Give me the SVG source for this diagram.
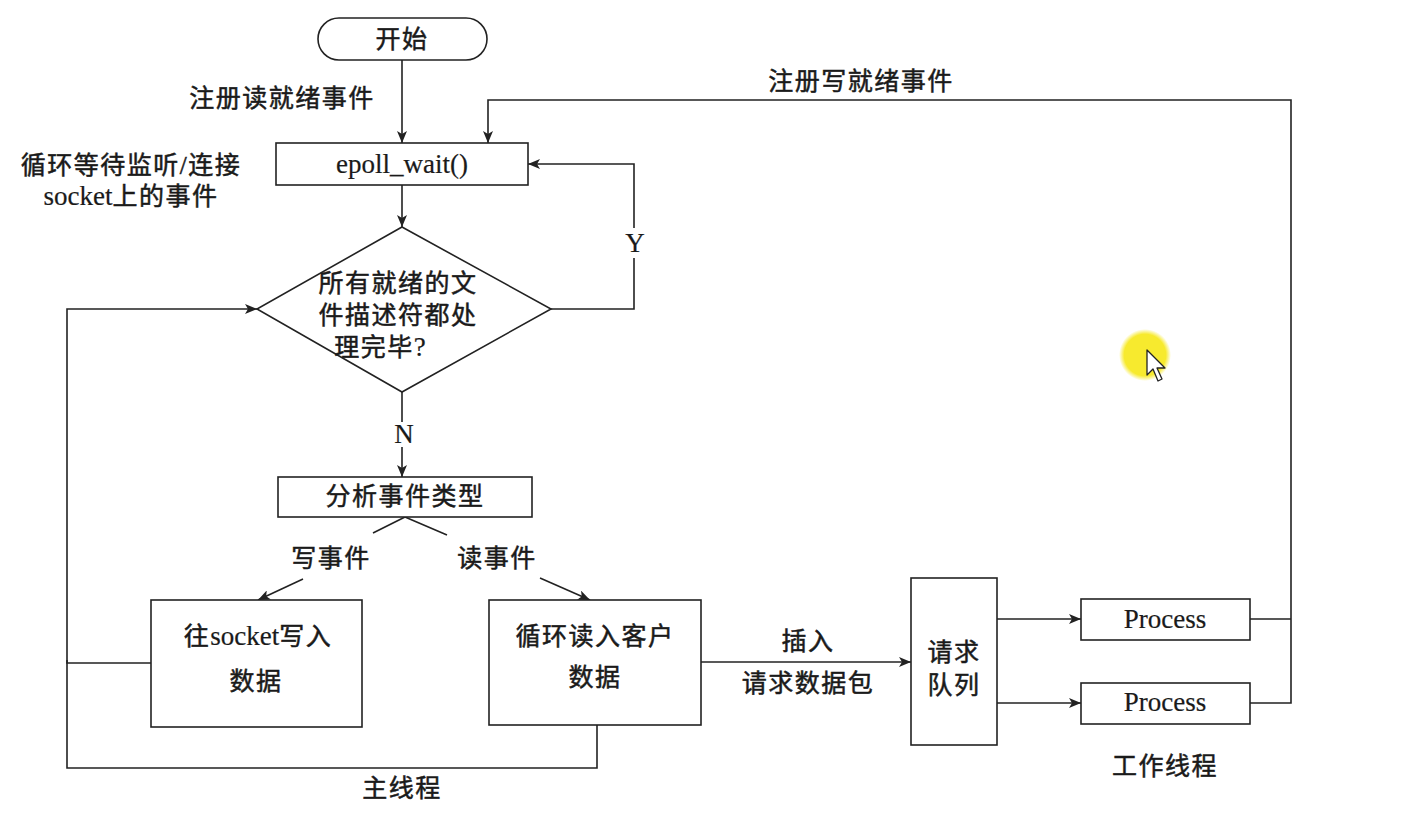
<svg xmlns="http://www.w3.org/2000/svg" width="1416" height="820" viewBox="0 0 1416 820">
<defs>
<marker id="arr" viewBox="0 0 12 10" refX="12" refY="5" markerWidth="12" markerHeight="10" markerUnits="userSpaceOnUse" orient="auto">
<path d="M0,0 L12,5 L0,10 L3,5 Z" fill="#222"/>
</marker>
<radialGradient id="glow" cx="0.5" cy="0.5" r="0.5">
<stop offset="0.8" stop-color="#f7ea2e"/>
<stop offset="1" stop-color="#f7ea2e" stop-opacity="0"/>
</radialGradient>
</defs>
<style>
.box{fill:#fff;stroke:#222;stroke-width:1.6}
.ln{fill:none;stroke:#222;stroke-width:1.6}
.t{font-family:"Liberation Serif","Noto Sans CJK SC",serif;font-size:25px;fill:#1a1a1a;stroke:#1a1a1a;stroke-width:0.5;text-anchor:middle;dominant-baseline:central;letter-spacing:1.5px}
.lat{font-size:27px;letter-spacing:0;stroke-width:0.2}
.en{letter-spacing:0;font-size:27px;stroke-width:0.2}
</style>
<rect width="1416" height="820" fill="#fff"/>

<g id="connectors">
<path class="ln" d="M402,60 V143" marker-end="url(#arr)"/>
<path class="ln" d="M402,185 V227" marker-end="url(#arr)"/>
<path class="ln" d="M551,309 H634 V258 M634,228 V164 H528" marker-end="url(#arr)"/>
<path class="ln" d="M402,392 V422 M402,447 V477" marker-end="url(#arr)"/>
<path class="ln" d="M405,517 L373,533 M405,517 L447,535"/>
<path class="ln" d="M303,579 L258,600" marker-end="url(#arr)"/>
<path class="ln" d="M540,578 L590,600" marker-end="url(#arr)"/>
<path class="ln" d="M151,663 H67 V309 H257" marker-end="url(#arr)"/>
<path class="ln" d="M597,725 V768 H67 V660"/>
<path class="ln" d="M701,662 H911" marker-end="url(#arr)"/>
<path class="ln" d="M997,619 H1081" marker-end="url(#arr)"/>
<path class="ln" d="M997,703 H1081" marker-end="url(#arr)"/>
<path class="ln" d="M1250,619 H1291 M1250,703 H1291 V100 H488 V143" marker-end="url(#arr)"/>
</g>

<g id="labels">
<text class="t" x="282" y="98">注册读就绪事件</text>
<text class="t" x="131" y="165">循环等待监听/连接</text>
<text class="t" x="131" y="196"><tspan class="en">socket</tspan>上的事件</text>
<text class="t" x="861" y="81">注册写就绪事件</text>
<text class="t lat" x="635" y="243">Y</text>
<text class="t lat" x="404" y="434">N</text>
<text class="t" x="331" y="558">写事件</text>
<text class="t" x="497" y="558">读事件</text>
<text class="t" x="808" y="641">插入</text>
<text class="t" x="808" y="683">请求数据包</text>
<text class="t" x="402" y="788">主线程</text>
<text class="t" x="1165" y="766">工作线程</text>
</g>

<g id="start">
<rect class="box" x="318" y="18" width="169" height="42" rx="21"/>
<text class="t" x="402" y="39">开始</text>
</g>

<g id="epoll">
<rect class="box" x="276" y="143" width="252" height="42"/>
<text class="t lat" x="402" y="164">epoll_wait()</text>
</g>

<g id="decision">
<polygon class="box" points="402,227 551,309 402,392 257,309"/>
<text class="t" x="398" y="283">所有就绪的文</text>
<text class="t" x="398" y="315">件描述符都处</text>
<text class="t" x="380" y="347">理完毕<tspan class="en">?</tspan></text>
</g>

<g id="analyze">
<rect class="box" x="278" y="477" width="254" height="40"/>
<text class="t" x="405" y="496">分析事件类型</text>
</g>

<g id="write">
<rect class="box" x="151" y="600" width="211" height="127"/>
<text class="t" x="258" y="636">往<tspan class="en">socket</tspan>写入</text>
<text class="t" x="256" y="681">数据</text>
</g>

<g id="read">
<rect class="box" x="489" y="600" width="212" height="125"/>
<text class="t" x="595" y="636">循环读入客户</text>
<text class="t" x="595" y="677">数据</text>
</g>

<g id="queue">
<rect class="box" x="911" y="578" width="86" height="167"/>
<text class="t" x="954" y="652">请求</text>
<text class="t" x="954" y="685">队列</text>
</g>

<g id="process1">
<rect class="box" x="1081" y="599" width="169" height="41"/>
<text class="t lat" x="1165" y="619">Process</text>
</g>

<g id="process2">
<rect class="box" x="1081" y="683" width="169" height="41"/>
<text class="t lat" x="1165" y="702">Process</text>
</g>

<g id="cursor">
<circle cx="1145" cy="355" r="26" fill="url(#glow)"/>
<polygon points="1147,350 1147,375 1153,369 1158,381 1162,379 1157,368 1165,368" fill="#fff" stroke="#222" stroke-width="1.3" stroke-linejoin="round"/>
</g>
</svg>
